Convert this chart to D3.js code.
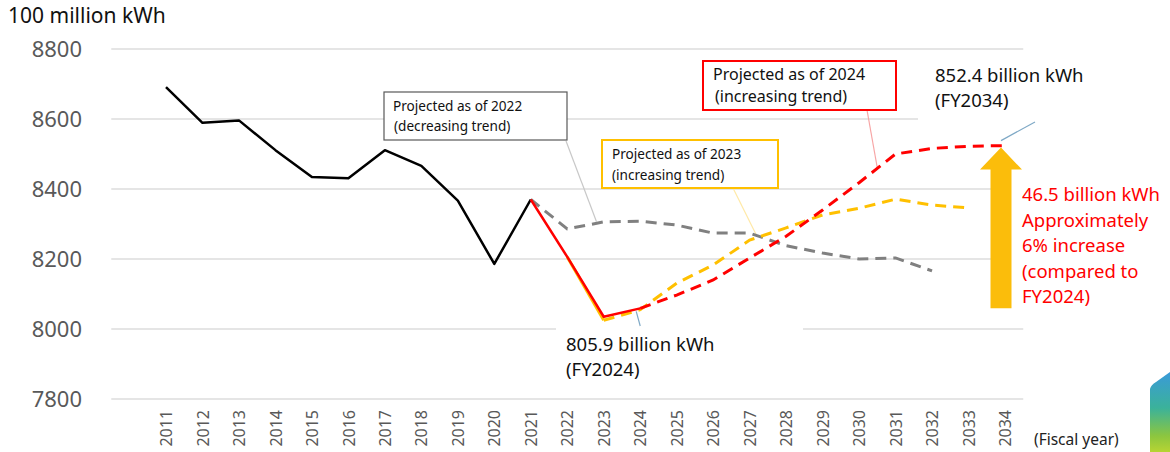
<!DOCTYPE html>
<html>
<head>
<meta charset="utf-8">
<script src="https://cdn.jsdelivr.net/npm/d3@7"></script>
<style>
  body { margin: 0; background: #fff; }
  svg { display: block; font-family: "Noto Sans", "Open Sans", sans-serif; }
</style>
</head>
<body>
<div id="chart"></div>
<script>
// fiscal years on the x axis
const years = d3.range(2011, 2035);
const yTicks = [7800, 8000, 8200, 8400, 8600, 8800];

// actual demand, FY2011-FY2021 (100 million kWh)
const actualStart = 2011;
const actual = [8691, 8589, 8596, 8511, 8434, 8431, 8511, 8466, 8367, 8186, 8370];

// actual FY2021-FY2024 (red solid)
const actual24Start = 2021;
const actual24 = [8370, 8206, 8035, 8059];

// actual as of 2023 (under the red one)
const actual23Start = 2022;
const actual23 = [8206, 8025];

// projection as of 2022 (grey dashed)
const proj22Start = 2021;
const proj22 = [8370, 8286, 8306, 8308, 8297, 8274, 8274, 8238, 8217, 8200, 8203, 8166];

// projection as of 2023 (yellow dashed)
const proj23Start = 2023;
const proj23 = [8025, 8055, 8131, 8183, 8254, 8289, 8326, 8345, 8371, 8354, 8346];

// projection as of 2024 (red dashed)
const proj24Start = 2024;
const proj24 = [8059, 8097, 8140, 8203, 8265, 8340, 8418, 8500, 8516, 8522, 8524];

const W = 1170, H = 452;

function pts(start, vals) {
    return vals.map(function(v, i) { return {year: start + i, v: v}; });
}

const svg = d3.select('#chart').append('svg')
    .attr('width', W).attr('height', H);
svg.append('rect').attr('width', W).attr('height', H).attr('fill', '#fff');

const x = d3.scalePoint().domain(years).range([166, 1005]);
const y = d3.scaleLinear().domain([7800, 8800]).range([399, 49]);
const step = x.step();
const gx0 = x(years[0]) - 1.5 * step;
const gx1 = x(years[years.length - 1]) + 0.5 * step;

// gridlines
svg.append('g').selectAll('line')
    .data(yTicks).enter().append('line')
    .attr('x1', gx0).attr('x2', gx1)
    .attr('y1', function(d) { return y(d); })
    .attr('y2', function(d) { return y(d); })
    .attr('stroke', '#dcdcdc').attr('stroke-width', 1.5);

// y axis labels
const yAxis = svg.append('g')
    .attr('transform', 'translate(85,0)')
    .call(d3.axisLeft(y).tickValues(yTicks).tickSize(0).tickPadding(3).tickFormat(d3.format('d')));
yAxis.select('.domain').remove();
yAxis.selectAll('text')
    .attr('fill', '#595959').style('font-size', '22px')
    .style('font-family', '"Noto Sans", sans-serif');

// x axis labels (rotated)
const xAxis = svg.append('g')
    .attr('transform', 'translate(0,' + y(7800) + ')')
    .call(d3.axisBottom(x).tickSize(0).tickFormat(d3.format('d')));
xAxis.select('.domain').remove();
xAxis.selectAll('text')
    .attr('transform', 'rotate(-90)')
    .attr('x', -11).attr('y', 0).attr('dy', '0.35em')
    .attr('text-anchor', 'end')
    .attr('fill', '#595959').style('font-size', '16px')
    .style('font-family', '"Noto Sans", sans-serif');

svg.append('text').attr('x', 8).attr('y', 23)
    .style('font-size', '21px').attr('fill', '#111')
    .text('100 million kWh');
svg.append('text').attr('x', 1034).attr('y', 445)
    .style('font-size', '15.5px').attr('fill', '#222')
    .text('(Fiscal year)');

const line = d3.line()
    .x(function(d) { return x(d.year); })
    .y(function(d) { return y(d.v); });

// white boxes behind the value labels (they hide the gridlines)
svg.append('rect').attr('x', 556).attr('y', 326).attr('width', 247).attr('height', 54).attr('fill', '#fff');
svg.append('rect').attr('x', 918).attr('y', 58).attr('width', 180).attr('height', 72).attr('fill', '#fff');
svg.append('rect').attr('x', 1011).attr('y', 175).attr('width', 159).attr('height', 135).attr('fill', '#fff');

// annotation boxes
function box(x0, y0, w, h, col, sw, lines, fs, xs, ys) {
    svg.append('rect').attr('x', x0).attr('y', y0).attr('width', w).attr('height', h)
        .attr('fill', '#fff').attr('stroke', col).attr('stroke-width', sw);
    lines.forEach(function(t, i) {
        svg.append('text').attr('x', xs[i]).attr('y', ys[i])
            .style('font-size', fs + 'px').attr('fill', '#111').text(t);
    });
}

// leader lines
function leader(x1, y1, x2, y2, col) {
    svg.append('line').attr('x1', x1).attr('y1', y1).attr('x2', x2).attr('y2', y2)
        .attr('stroke', col).attr('stroke-width', 1.2);
}
leader(566, 141, x(2022) + 0.8 * step, y(8307), '#c8c8c8');
leader(733, 188, x(2027) + 0.2 * step, y(8265), '#ffe9a6');
leader(867, 110, x(2030) + 0.5 * step, y(8460), '#f7a5a5');
leader(x(2034) - 4, y(8524) - 5, 1035, 122, '#7fa9c6');
leader(x(2024) - 4, y(8059) + 3, x(2024), y(8000) - 3, '#7fa9c6');

box(384, 92, 183, 48, '#595959', 1.2, ['Projected as of 2022', ' (decreasing trend)'], 13.6, [393, 394], [111, 131]);
box(602, 140, 176, 48, '#ffc000', 2, ['Projected as of 2023', '(increasing trend)'], 13.6, [612, 612], [159, 180]);
box(703, 61, 193, 49, '#ff0000', 2, ['Projected as of 2024', ' (increasing trend)'], 16, [713, 715], [80, 102]);

// series
svg.append('path').datum(pts(proj22Start, proj22)).attr('d', line)
    .attr('fill', 'none').attr('stroke', '#808080').attr('stroke-width', 3)
    .attr('stroke-dasharray', '11,7');
svg.append('path').datum(pts(actual23Start, actual23)).attr('d', line)
    .attr('fill', 'none').attr('stroke', '#ffc000').attr('stroke-width', 3);
svg.append('path').datum(pts(proj23Start, proj23)).attr('d', line)
    .attr('fill', 'none').attr('stroke', '#ffc000').attr('stroke-width', 3)
    .attr('stroke-dasharray', '11,7');
svg.append('path').datum(pts(proj24Start, proj24)).attr('d', line)
    .attr('fill', 'none').attr('stroke', '#ff0000').attr('stroke-width', 3)
    .attr('stroke-dasharray', '11,7');
svg.append('path').datum(pts(actualStart, actual)).attr('d', line)
    .attr('fill', 'none').attr('stroke', '#000').attr('stroke-width', 2.5)
    .attr('stroke-linejoin', 'round');
svg.append('path').datum(pts(actual24Start, actual24)).attr('d', line)
    .attr('fill', 'none').attr('stroke', '#ff0000').attr('stroke-width', 2.5)
    .attr('stroke-linejoin', 'round');

// increase arrow from FY2024 to FY2034
const vFrom = actual24[actual24.length - 1];
const vTo = proj24[proj24.length - 1];
const ax = x(2034) - 4;
const yT = y(vTo) + 2, yB = y(vFrom);
svg.append('path')
    .attr('d', 'M' + (ax - 10.5) + ',' + yB + 'V' + (yT + 22) + 'H' + (ax - 21) +
        'L' + ax + ',' + yT + 'L' + (ax + 21) + ',' + (yT + 22) + 'H' + (ax + 10.5) + 'V' + yB + 'Z')
    .attr('fill', '#fbbd0b');

// value labels
const fmt = d3.format('.1f');
svg.append('text').attr('x', 566).attr('y', 351).style('font-size', '18.5px').attr('fill', '#111')
    .text(fmt(vFrom / 10) + ' billion kWh');
svg.append('text').attr('x', 566).attr('y', 376).style('font-size', '18.5px').attr('fill', '#111')
    .text('(FY2024)');
svg.append('text').attr('x', 935).attr('y', 82).style('font-size', '18.5px').attr('fill', '#111')
    .text(fmt(vTo / 10) + ' billion kWh');
svg.append('text').attr('x', 935).attr('y', 107).style('font-size', '18.5px').attr('fill', '#111')
    .text('(FY2034)');

const redLines = [fmt((vTo - vFrom) / 10) + ' billion kWh', 'Approximately',
    d3.format('.0%')((vTo - vFrom) / vFrom) + ' increase', '(compared to', 'FY2024)'];
svg.append('g').selectAll('text').data(redLines).enter().append('text')
    .attr('x', 1022).attr('y', function(d, i) { return 201 + i * 25.5; })
    .style('font-size', '18.5px').attr('fill', '#ff0000')
    .text(function(d) { return d; });

// logo corner
const grad = svg.append('defs').append('linearGradient')
    .attr('id', 'lg').attr('x1', 0).attr('y1', 0).attr('x2', 0).attr('y2', 1);
grad.append('stop').attr('offset', '0%').attr('stop-color', '#3a9ad9');
grad.append('stop').attr('offset', '45%').attr('stop-color', '#3bb29a');
grad.append('stop').attr('offset', '80%').attr('stop-color', '#8cc63f');
grad.append('stop').attr('offset', '100%').attr('stop-color', '#b7d433');
svg.append('path')
    .attr('d', 'M1150,389 Q1151,385 1156,382 L1170,372 V452 H1150 Z')
    .attr('fill', 'url(#lg)');
</script>
</body>
</html>
